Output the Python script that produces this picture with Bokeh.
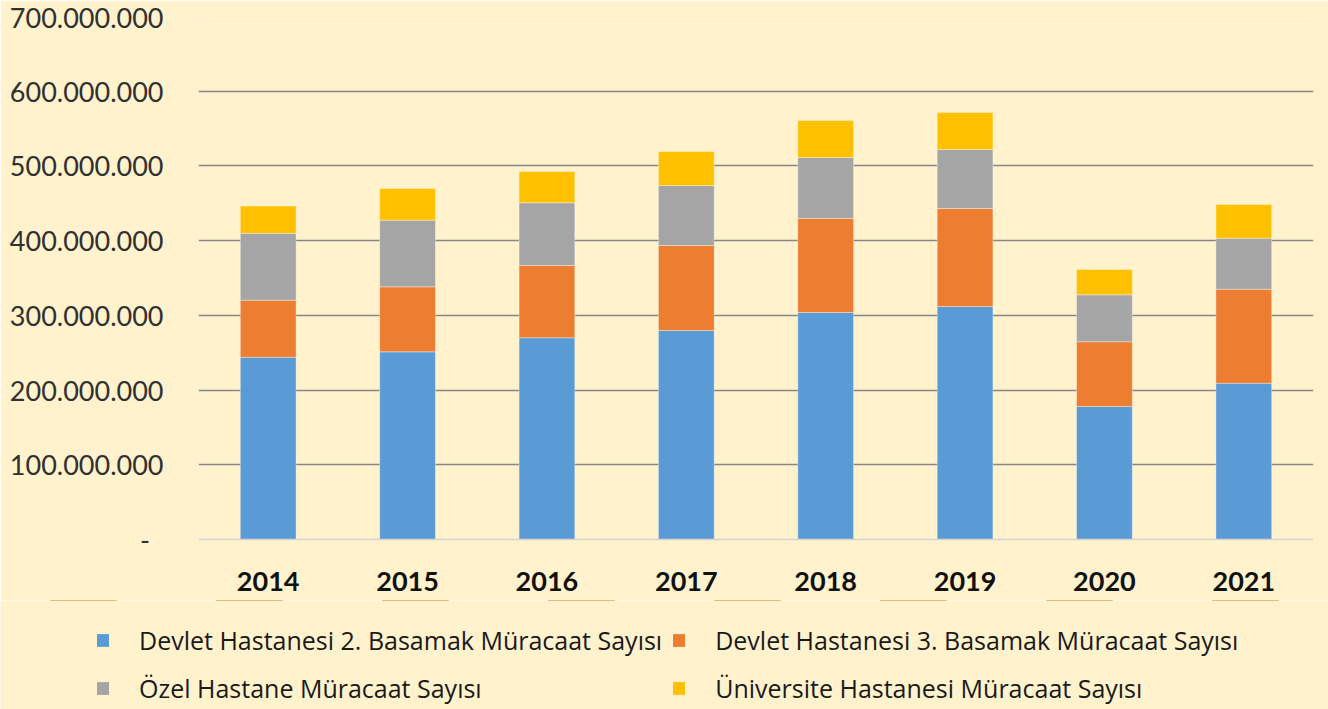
from bokeh.plotting import figure
from bokeh.layouts import column, row
from bokeh.models import FactorRange, Range1d, FixedTicker, Grid, Legend, LegendItem, ColumnDataSource
from bokeh.embed import file_html
from bokeh.resources import INLINE

years = ["2014", "2015", "2016", "2017", "2018", "2019", "2020", "2021"]
devlet2 = [244.0e6, 251.2e6, 270.0e6, 279.7e6, 303.8e6, 311.9e6, 178.0e6, 209.2e6]
devlet3 = [76.3e6, 87.0e6, 96.7e6, 113.8e6, 125.9e6, 131.1e6, 86.6e6, 125.8e6]
ozel = [89.5e6, 89.2e6, 84.0e6, 80.3e6, 81.6e6, 79.0e6, 62.9e6, 68.3e6]
universite = [36.4e6, 42.4e6, 41.9e6, 45.5e6, 49.5e6, 49.5e6, 33.9e6, 45.1e6]
series_names = ["Devlet Hastanesi 2. Basamak Müracaat Sayısı",
                "Devlet Hastanesi 3. Basamak Müracaat Sayısı",
                "Özel Hastane Müracaat Sayısı",
                "Üniversite Hastanesi Müracaat Sayısı"]
y_ticks = [0, 100e6, 200e6, 300e6, 400e6, 500e6, 600e6, 700e6]
y_tick_labels = ["-\u2002", "100.000.000", "200.000.000", "300.000.000", "400.000.000",
                 "500.000.000", "600.000.000", "700.000.000"]

colors = ["#5B9BD5", "#ED7D31", "#A5A5A5", "#FFC000"]
keys = ["d2", "d3", "oz", "un"]
bg = "#FFF2CC"

source = ColumnDataSource(dict(years=years, d2=devlet2, d3=devlet3, oz=ozel, un=universite))

p = figure(x_range=FactorRange(*years), y_range=Range1d(0, 700e6),
           width=1328, height=600, output_backend="svg", toolbar_location=None,
           min_border_left=198, min_border_right=15, min_border_top=16, min_border_bottom=61)
p.background_fill_color = bg
p.border_fill_color = bg
p.outline_line_color = None

renderers = p.vbar_stack(keys, x="years", width=0.4, color=colors, source=source,
                         line_color="white", line_alpha=0.35, line_width=1)

# axes
p.yaxis.ticker = FixedTicker(ticks=y_ticks)
p.yaxis.major_label_overrides = {t: l for t, l in zip(y_ticks, y_tick_labels)}
p.yaxis.axis_line_color = None
p.yaxis.major_tick_line_color = None
p.yaxis.minor_tick_line_color = None
p.yaxis.major_label_standoff = 29
p.yaxis.major_label_text_font = "Lato"
p.yaxis.major_label_text_font_size = "27px"
p.yaxis.major_label_text_color = "#303030"

p.xaxis.axis_line_color = "#D4D4D4"
p.xaxis.axis_line_width = 1.5
p.xaxis.major_tick_line_color = None
p.xaxis.major_label_standoff = 26
p.xaxis.major_label_text_font = "Lato"
p.xaxis.major_label_text_font_style = "bold"
p.xaxis.major_label_text_font_size = "27px"
p.xaxis.major_label_text_color = "#111111"

p.xgrid.grid_line_color = None
p.ygrid.grid_line_color = None
grid = Grid(dimension=1, ticker=FixedTicker(ticks=y_ticks[1:]),
            grid_line_color="#868686", grid_line_width=1.5)
p.add_layout(grid)

# legend strip: same series, stacked outside its visible y range so only the legend shows
p2 = figure(width=1328, height=109, output_backend="svg", toolbar_location=None,
            x_range=FactorRange(*years), y_range=Range1d(-2, -1),
            x_axis_location=None, y_axis_location=None,
            min_border=0, min_border_left=0, min_border_right=0,
            min_border_top=0, min_border_bottom=0)
p2.background_fill_color = bg
p2.border_fill_color = bg
p2.outline_line_color = None
p2.grid.visible = False
proxies = p2.vbar_stack(keys, x="years", width=0.4, fill_color=colors, source=source,
                        line_color=None)

items = [LegendItem(label=n, renderers=[r]) for n, r in zip(series_names, proxies)]
legend = Legend(items=items, ncols=2, orientation="horizontal",
                location=(95, 2), margin=0, padding=0,
                glyph_width=15, glyph_height=16, label_standoff=29,
                spacing=9, label_text_font="Open Sans", label_text_font_size="25px",
                label_text_color="#1a1a1a", background_fill_alpha=0,
                border_line_color=None, label_height=39)
p2.add_layout(legend)

open("out.html", "w").write(file_html(column(p, row(p2), spacing=0), INLINE))
